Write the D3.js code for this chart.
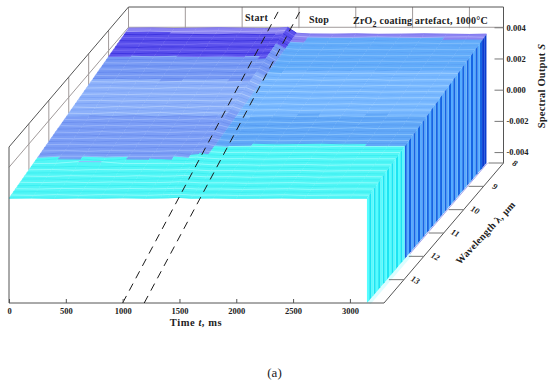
<!DOCTYPE html>
<html><head><meta charset="utf-8">
<script src="https://cdn.jsdelivr.net/npm/d3@7"></script>
<style>html,body{margin:0;padding:0;background:#fff}svg{display:block}
text{font-family:"Liberation Serif",serif;font-weight:bold;fill:#222}</style>
</head><body><svg id="c" width="550" height="383"></svg>
<script>
const timeTicks=[0,500,1000,1500,2000,2500,3000];
const outputTicks=[-0.004,-0.002,0,0.002,0.004];
const waveTicks=[8,9,10,11,12,13];
const times=[0,200,400,600,800,1000,1200,1330,1400,1480,1600,1800,2000,2200,2400,2600,2800,3000,3150];
const wavelengths=[8,8.11,8.22,8.33,8.44,8.56,8.67,8.78,8.89,9,9.11,9.22,9.33,9.44,9.56,9.67,9.78,9.89,10,10.11,10.22,10.33,10.44,10.56,10.67,10.78,10.89,11,11.11,11.22,11.33,11.44,11.56,11.67,11.78,11.89,12,12.11,12.22,12.33,12.44,12.56,12.67,12.78,12.89,13,13.11,13.22,13.33,13.44,13.56,13.67,13.78,13.89,14];
const startLine=[[1000,14,-470],[1339,8,530]];
const stopLine=[[1190,14,-470],[1529,8,530]];
// spectral output in units of 1e-5, one row per wavelength, one column per time
const spectra=[
[394,396,392,394,397,394,392,395,399,362,357,356,358,355,356,358,356,354,356],
[390,392,389,391,393,390,392,392,396,360,354,352,352,355,353,351,354,355,353],
[387,385,389,387,385,389,386,388,392,356,351,350,352,348,350,352,349,351,350],
[383,385,381,384,382,386,383,384,388,353,348,346,346,349,347,349,345,347,347],
[380,378,382,380,382,378,381,382,385,350,345,347,343,345,347,343,345,346,345],
[376,378,375,374,379,376,378,378,381,347,342,340,344,342,340,344,342,340,342],
[373,371,375,373,371,375,372,374,378,344,339,341,337,339,341,337,339,341,339],
[369,371,367,371,369,367,371,371,374,341,336,334,338,336,334,336,338,334,336],
[366,364,368,364,368,366,364,367,371,338,334,332,331,335,333,331,335,333,333],
[362,364,360,364,362,365,361,363,367,335,330,332,328,330,332,328,330,332,330],
[358,360,358,356,361,358,360,360,363,333,328,326,330,328,326,330,328,326,328],
[355,353,357,355,353,357,354,356,360,330,325,327,323,325,327,323,325,326,325],
[351,353,349,353,351,349,353,352,356,327,322,320,324,322,320,324,322,320,322],
[348,346,350,346,350,348,346,349,352,324,319,321,317,319,321,317,319,321,319],
[344,346,342,346,344,347,343,345,348,321,316,314,318,316,314,318,316,315,316],
[341,339,343,341,339,343,340,342,345,318,313,315,311,313,315,311,313,314,313],
[337,339,335,339,337,335,339,338,342,315,310,312,308,310,312,308,310,311,310],
[334,332,336,332,336,334,332,335,338,313,308,306,310,308,306,310,308,306,308],
[330,332,328,332,330,333,329,331,335,310,305,307,303,305,307,303,305,306,305],
[326,328,326,324,329,326,328,328,331,307,302,304,300,302,304,300,302,303,302],
[323,321,325,323,321,325,322,324,327,304,299,301,297,299,301,297,299,300,299],
[319,321,317,321,319,317,321,320,324,301,296,298,294,296,298,294,296,297,296],
[316,314,318,314,318,316,314,317,320,298,293,295,291,293,295,291,293,294,293],
[312,314,310,314,312,315,311,313,317,295,290,292,288,290,292,288,290,291,290],
[309,312,306,311,305,313,307,310,313,293,288,286,290,288,286,290,288,286,288],
[305,301,308,303,310,302,309,306,310,290,285,287,283,285,287,283,285,286,285],
[302,305,299,306,300,306,298,303,306,287,282,284,280,282,284,280,282,283,282],
[298,295,302,296,303,295,302,299,303,284,279,281,277,279,281,277,279,280,279],
[294,298,292,298,291,298,292,296,299,281,276,279,274,280,274,278,275,274,276],
[291,288,295,289,294,288,295,292,295,278,273,275,270,273,277,270,274,276,273],
[287,290,285,291,286,290,284,288,292,275,270,267,273,268,272,268,272,270,270],
[284,281,287,282,287,281,287,285,288,273,268,270,266,271,266,270,265,268,268],
[280,283,278,283,280,284,278,281,284,270,265,262,268,263,268,263,267,265,265],
[277,274,280,275,279,275,280,278,281,267,262,264,260,264,260,265,260,262,262],
[273,276,271,276,272,270,276,274,278,264,259,261,257,259,262,257,260,259,259],
[270,267,272,268,272,269,267,271,274,261,256,258,254,256,258,254,257,255,256],
[266,268,264,268,266,269,265,267,270,258,253,255,251,253,255,251,253,254,253],
[262,265,261,260,265,262,264,264,267,256,250,252,249,251,248,252,250,251,251],
[259,257,261,259,257,261,258,260,263,253,248,249,246,248,250,246,248,248,248],
[255,257,253,257,255,253,257,256,259,250,245,246,243,245,246,243,245,245,245],
[251,258,257,255,256,256,258,250,255,247,242,243,240,242,244,240,242,242,242],
[248,256,256,250,255,254,257,248,251,244,239,240,237,239,241,237,239,239,239],
[245,255,254,244,254,253,246,245,248,241,236,237,234,236,238,234,236,236,236],
[241,243,254,253,241,242,243,241,244,238,233,234,231,233,235,231,233,233,233],
[238,236,240,236,240,238,236,239,241,236,231,232,229,231,233,229,231,231,231],
[234,236,232,236,234,237,233,235,238,233,228,229,226,228,230,226,228,229,228],
[230,232,230,228,233,230,232,232,234,230,225,226,223,225,227,223,225,226,225],
[227,225,229,227,225,229,226,228,231,227,222,223,220,222,224,220,222,223,222],
[223,225,221,225,223,221,225,224,227,224,219,220,217,219,221,217,219,220,219],
[220,218,222,218,222,220,218,221,223,221,216,217,214,216,218,214,216,217,216],
[216,218,214,218,216,219,215,217,219,218,213,214,211,213,215,211,213,214,213],
[213,211,215,213,211,215,212,214,216,216,211,212,209,211,213,209,211,212,211],
[209,211,207,211,209,207,211,210,212,213,208,209,206,208,210,206,208,209,208],
[206,204,208,204,208,206,204,207,209,210,205,206,203,205,207,203,205,206,205],
[202,203,201,203,202,204,202,203,204,207,202,203,201,202,203,201,202,202,202]];
const fillsBefore=['#52f6f6','#7c9ef6','#8cb0fa','#7699f4','#5a50ec','#8c84f2'];
const lightBefore=['#92fcfc','#9ab4f9','#aec8fc','#94aff7','#7468f4','#b0aaf8'];
const darkBefore=['#38eef0','#6a8cee','#7aa2f6','#6286ee','#3a30e0','#7a70ee'];
const levelsBefore=[252,296,336,363,389];
const fillsAfter=['#52f6f6','#62a8f8','#78b8ff','#62acfa','#8c84f2'];
const lightAfter=['#92fcfc','#88c2fc','#9cceff','#80bcfc','#b0aaf8'];
const darkAfter=['#38eef0','#559cf2','#68acfa','#5aa2f6','#7a70ee'];
const levelsAfter=[252,280,322,352];
const wallBlue=['#1665e4','#55acff'];
const wallCyan=['#1ce4f2','#56fdff'];

const svg=d3.select('#c');
const xT=d3.scaleLinear().domain([0,3300]).range([9,384]);
const yS=d3.scaleLinear().domain([-470,530]).range([303,147]);
const xD=d3.scaleLinear().domain([14,8]).range([0,119.5]);
const yD=d3.scaleLinear().domain([14,8]).range([0,-140]);
const px=(t,w)=>xT(t)+xD(w), py=(s,w)=>yS(s)+yD(w);
const scale=(lv,r)=>d3.scaleThreshold().domain(lv).range(r);
const fB=scale(levelsBefore,fillsBefore), lB=[scale(levelsBefore,darkBefore),scale(levelsBefore,lightBefore)],
      fA=scale(levelsAfter,fillsAfter), lA=[scale(levelsAfter,darkAfter),scale(levelsAfter,lightAfter)];
const line=d3.line();
const tMax=times[times.length-1], floorS=-470, topS=530;

// walls behind the surface
const grid=svg.append('g').attr('stroke','#a09a9a').attr('stroke-width',1).attr('fill','none');
timeTicks.forEach(t=>grid.append('path').attr('d',line([[px(t,8),py(topS,8)],[px(t,8),py(spectra[0][0],8)]])));
waveTicks.forEach(w=>{const s=spectra[wavelengths.indexOf(w)][0];
  grid.append('path').attr('d',line([[px(0,w),py(topS,w)],[px(0,w),py(s,w)]]));});
grid.append('path').attr('d',line([[px(0,14),py(400,14)],[px(0,8),py(400,8)],[px(3300,8),py(400,8)]]));

// pale fringe under the walls
const fringe=svg.append('g').attr('fill','none');
fringe.append('path').attr('d',line([[px(tMax,14)+2,py(floorS,14)],[px(tMax,11.9)+2,py(floorS,11.9)]])).attr('stroke','#dcfdff').attr('stroke-width',4);
fringe.append('path').attr('d',line([[px(tMax,11.9)+1,py(floorS,11.9)],[px(tMax,8)+1,py(floorS,8)]])).attr('stroke','#a9a6ee').attr('stroke-width',1);

// surface, back to front
const surf=svg.append('g');
wavelengths.forEach((w,i)=>{
  const row=spectra[i], g=surf.append('g');
  if(i<wavelengths.length-1){
    const w2=wavelengths[i+1], row2=spectra[i+1];
    times.slice(0,-1).forEach((t,j)=>{
      const t2=times[j+1], m=(row[j]+row[j+1]+row2[j]+row2[j+1])/4;
      const c=(t2<=1480?fB:fA)(m);
      g.append('path').attr('d',line([[px(t,w),py(row[j],w)],[px(t2,w),py(row[j+1],w)],[px(t2,w2),py(row2[j+1],w2)],[px(t,w2),py(row2[j],w2)]])+'Z')
       .attr('fill',c).attr('stroke',c).attr('stroke-width',.4);
    });
    const wc=(row[row.length-1]>=252?wallBlue:wallCyan)[i%2];
    const last=row.length-1;
    g.append('path').attr('d',line([[px(tMax,w),py(row[last],w)],[px(tMax,w2),py(row2[last],w2)],[px(tMax,w2),py(floorS,w2)],[px(tMax,w),py(floorS,w)]])+'Z')
     .attr('fill',i<2?'#0a3cd0':wc).attr('stroke','none');
  }
  times.slice(0,-1).forEach((t,j)=>{
    const t2=times[j+1], m=(row[j]+row[j+1])/2;
    g.append('path').attr('d',line([[px(t,w),py(row[j],w)],[px(t2,w),py(row[j+1],w)]]))
     .attr('fill','none').attr('stroke',(t2<=1480?lB:lA)[i%2](m)).attr('stroke-width',.9);
  });
});

// frame
const frame=svg.append('g').attr('fill','none').attr('stroke','#555').attr('stroke-width',1);
frame.append('path').attr('d',line([[px(0,14),py(floorS,14)],[px(0,14),py(topS,14)],[px(0,8),py(topS,8)],[px(3300,8),py(topS,8)],[px(3300,8),py(floorS,8)],[px(3300,14),py(floorS,14)],[px(0,14),py(floorS,14)]]));

// start/stop dashed lines
[startLine,stopLine].forEach(l=>svg.append('path')
  .attr('d',line(l.map(d=>[px(d[0],d[1]),py(d[2],d[1])])))
  .attr('fill','none').attr('stroke','#1a1a1a').attr('stroke-width',1).attr('stroke-dasharray','8 6'));

// time axis
const ax=svg.append('g').attr('transform',`translate(0,303)`)
  .call(d3.axisBottom(xT).tickValues(timeTicks).tickSizeOuter(0).tickSizeInner(-4).tickPadding(5).tickFormat(d3.format('d')));
ax.select('.domain').remove();
ax.selectAll('line').attr('stroke','#555');
ax.selectAll('text').attr('font-size',8.5).attr('font-family','"Liberation Serif",serif').attr('fill','#222');

// output axis
const yBack=d3.scaleLinear().domain([-0.0047,0.0053]).range([py(floorS,8),py(topS,8)]);
const ay=svg.append('g').attr('transform',`translate(${px(3300,8)},0)`)
  .call(d3.axisRight(yBack).tickValues(outputTicks).tickSizeOuter(0).tickSizeInner(-9).tickPadding(3).tickFormat(d=>d3.format('.3f')(d).replace('−','-')));
ay.select('.domain').remove();
ay.selectAll('line').attr('stroke','#777');
ay.selectAll('text').attr('font-size',8.5).attr('font-family','"Liberation Serif",serif').attr('fill','#222');

// wavelength axis
waveTicks.forEach(w=>{
  const x=px(3300,w), y=py(floorS,w);
  svg.append('line').attr('x1',x).attr('y1',y).attr('x2',x-15).attr('y2',y).attr('stroke','#777');
  svg.append('text').text(w).attr('transform',`translate(${x+11},${y+1}) rotate(28)`)
    .attr('text-anchor','middle').attr('dominant-baseline','middle').attr('font-size',8.5).attr('font-style','italic');
});

const label=(txt,x,y,size,extra)=>{const t=svg.append('text').attr('x',x).attr('y',y).attr('font-size',size).text(txt);if(extra)extra(t);return t;};
label('Start',245,20.5,10,t=>t.attr('letter-spacing',.3));
label('Stop',309,23,10,t=>t.attr('letter-spacing',.1));
const title=svg.append('text').attr('x',353).attr('y',23.5).attr('font-size',10).attr('letter-spacing',.22);
title.append('tspan').text('ZrO');
title.append('tspan').text('2').attr('dy',3).attr('font-size',8);
title.append('tspan').text(' coating artefact, 1000°C').attr('dy',-3);

const tt=svg.append('text').attr('x',196).attr('y',326).attr('text-anchor','middle').attr('font-size',10.5).attr('letter-spacing',.55);
tt.append('tspan').text('Time ');tt.append('tspan').text('t').attr('font-style','italic');tt.append('tspan').text(', ms');

const st=svg.append('text').attr('transform','translate(545,86) rotate(-90)').attr('text-anchor','middle').attr('font-size',10.5).attr('letter-spacing',.2);
st.append('tspan').text('Spectral Output ');st.append('tspan').text('S').attr('font-style','italic');

svg.append('text').attr('transform','translate(488,235) rotate(-47)').attr('text-anchor','middle').attr('font-size',10).attr('letter-spacing',.3).text('Wavelength λ, µm');

svg.append('text').attr('x',274.5).attr('y',377).attr('text-anchor','middle').attr('font-size',13).style('font-family','"Liberation Serif",serif').style('font-weight','normal').style('fill','#222').text('(a)');
</script></body></html>
